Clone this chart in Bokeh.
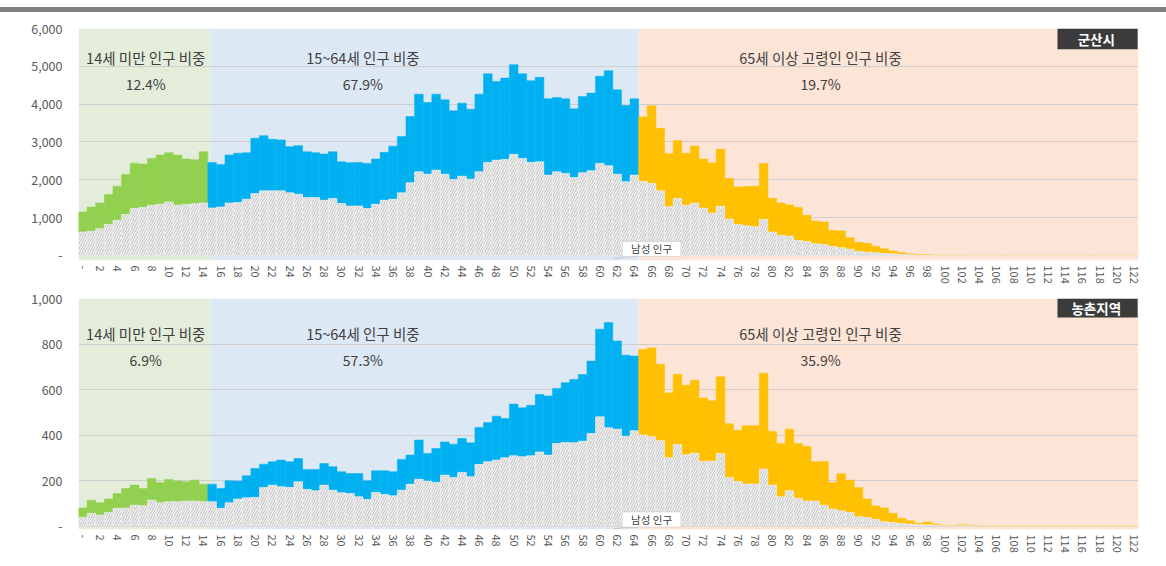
from bokeh.plotting import figure
from bokeh.models import (ColumnDataSource, Range1d, FixedTicker, NumeralTickFormatter,
                          BoxAnnotation, Label, Div, PolyAnnotation)
from bokeh.layouts import column
from bokeh.embed import file_html
from bokeh.resources import INLINE

# ---------------- data ----------------
ages = list(range(0, 123))

gunsan_total = [
    1150, 1283, 1390, 1610, 1830, 2140, 2440, 2415, 2565, 2655,
    2715, 2655, 2550, 2530, 2745, 2460, 2407, 2655, 2700, 2715,
    3100, 3168, 3070, 3053, 2876, 2903, 2743, 2717, 2681, 2743,
    2478, 2451, 2460, 2433, 2549, 2726, 2890, 3142, 3673, 4265,
    4044, 4265, 4115, 3823, 4027, 3867, 4265, 4805, 4602, 4690,
    5044, 4805, 4619, 4708, 4142, 4177, 4142, 3876, 4204, 4292,
    4735, 4885, 4381, 3965, 4142, 3660, 3955, 3360, 2690, 3040,
    2700, 2895, 2550, 2450, 2805, 2035, 1813, 1820, 1830, 2433,
    1510, 1385, 1340, 1270, 1061, 910, 885, 663, 650, 470,
    350, 320, 239, 177, 115, 71, 44, 26, 18, 9,
    5, 3, 1, 0, 0, 0, 0, 0, 0, 0,
    0, 0, 0, 0, 0, 0, 0, 0, 0, 0,
    0, 0, 0,
]
gunsan_male = [
    620, 637, 708, 823, 930, 1080, 1240, 1265, 1330, 1355,
    1415, 1330, 1345, 1370, 1390, 1257, 1283, 1390, 1400, 1487,
    1637, 1708, 1708, 1708, 1655, 1620, 1531, 1531, 1460, 1504,
    1372, 1310, 1310, 1239, 1354, 1460, 1487, 1655, 1920, 2212,
    2150, 2257, 2150, 2009, 2097, 2018, 2212, 2460, 2522, 2540,
    2673, 2566, 2460, 2478, 2124, 2212, 2168, 2062, 2186, 2239,
    2434, 2372, 2150, 1947, 2124, 1960, 1900, 1710, 1290, 1503,
    1330, 1388, 1250, 1123, 1300, 965, 820, 785, 760, 950,
    619, 530, 513, 398, 371, 309, 291, 239, 203, 168,
    106, 88, 71, 53, 44, 26, 18, 9, 8, 3,
    2, 1, 0, 0, 0, 0, 0, 0, 0, 0,
    0, 0, 0, 0, 0, 0, 0, 0, 0, 0,
    0, 0, 0,
]
rural_total = [
    80, 114, 102, 119, 143, 165, 180, 165, 209, 192,
    205, 198, 195, 202, 184, 184, 165, 199, 198, 221,
    253, 272, 283, 290, 283, 297, 249, 249, 275, 261,
    239, 231, 231, 199, 243, 243, 239, 293, 312, 378,
    319, 341, 370, 360, 385, 366, 433, 455, 483, 473,
    536, 520, 531, 578, 572, 605, 630, 644, 666, 725,
    865, 895, 813, 751, 747, 776, 783, 711, 585, 667,
    619, 641, 563, 551, 656, 450, 421, 441, 441, 672,
    416, 363, 426, 363, 350, 283, 284, 192, 230, 202,
    170, 119, 88, 80, 56, 34, 23, 12, 18, 9,
    4, 3, 6, 5, 2, 0, 0, 0, 0, 0,
    0, 0, 0, 0, 0, 0, 0, 0, 0, 0,
    0, 0, 0,
]
rural_male = [
    38, 56, 48, 60, 78, 80, 92, 89, 114, 102,
    107, 107, 110, 110, 107, 107, 78, 102, 119, 124,
    126, 170, 180, 173, 170, 195, 161, 155, 180, 158,
    146, 143, 129, 117, 148, 139, 133, 158, 184, 206,
    198, 192, 224, 214, 236, 217, 271, 283, 290, 300,
    309, 305, 309, 326, 312, 363, 367, 366, 373, 407,
    480, 432, 426, 395, 419, 400, 392, 375, 300, 358,
    313, 321, 285, 285, 319, 213, 196, 185, 185, 251,
    180, 129, 155, 122, 110, 110, 92, 75, 67, 60,
    41, 38, 29, 19, 16, 12, 9, 6, 6, 4,
    2, 1, 2, 2, 1, 0, 0, 0, 0, 0,
    0, 0, 0, 0, 0, 0, 0, 0, 0, 0,
    0, 0, 0,
]

group_titles = ["14세 미만 인구 비중", "15~64세 인구 비중", "65세 이상 고령인 인구 비중"]
gunsan_shares = ["12.4%", "67.9%", "19.7%"]
rural_shares = ["6.9%", "57.3%", "35.9%"]
male_label = "남성 인구"
region_names = ["군산시", "농촌지역"]

# ---------------- style ----------------
FONT = "Noto Sans CJK KR"
GREEN, BLUE, ORANGE = "#92D050", "#00B0F0", "#FFC000"
BG = ["#E3EDDA", "#DDE8F5", "#FCE4D6"]
TXT = "#404040"


def bar_color(a):
    if a < 15:
        return GREEN
    if a < 65:
        return BLUE
    return ORANGE


def make_panel(total, male, shares, region, ymin, ymax, ystep, height, btop, bbot,
               y_title, y_share, tag_bottom, mbox, mtext_y, ptr):
    p = figure(width=1158, height=height, x_range=Range1d(-0.5, 122.5),
               y_range=Range1d(ymin, ymax), output_backend="svg", toolbar_location=None,
               min_border_left=78, min_border_right=20, min_border_top=btop,
               min_border_bottom=bbot)
    p.outline_line_color = None
    p.background_fill_color = "white"
    p.border_fill_color = "white"

    bg = p.quad(left=[-0.5, 14.8, 64.5], right=[14.8, 64.5, 122.5],
                bottom=[ymin] * 3, top=[ymax] * 3, fill_color=BG, line_color=None)
    bg.level = "image"

    p.xgrid.visible = False
    p.ygrid.ticker = FixedTicker(ticks=list(range(0, ymax + 1, ystep)))
    p.ygrid.grid_line_color = "#CFCDCD"
    p.ygrid.grid_line_width = 1

    for ax in (p.xaxis[0], p.yaxis[0]):
        ax.axis_line_color = None
        ax.major_tick_line_color = None
        ax.minor_tick_line_color = None
        ax.major_tick_out = 0
        ax.major_tick_in = 0
        ax.major_label_text_font = FONT
        ax.major_label_text_color = "#595959"
        ax.major_label_overrides = {0: "-"}

    p.yaxis.ticker = FixedTicker(ticks=list(range(0, ymax + 1, ystep)))
    p.yaxis.formatter = NumeralTickFormatter(format="0,0")
    p.yaxis.major_label_text_font_size = "12.5px"
    p.yaxis.major_label_standoff = 16

    p.xaxis.ticker = FixedTicker(ticks=list(range(0, 123, 2)))
    p.xaxis.major_label_orientation = "vertical"
    p.xaxis.major_label_text_font_size = "11px"
    p.xaxis.major_label_standoff = 5

    src = ColumnDataSource(dict(age=ages, total=total, male=male,
                                color=[bar_color(a) for a in ages]))
    p.vbar(x="age", width=1.0, bottom="male", top="total", fill_color="color",
           line_color="color", line_width=0.5, source=src)
    p.vbar(x="age", width=1.0, bottom=0, top="male", fill_color="#F2F2F2",
           line_color="#F2F2F2", line_width=0.5, hatch_pattern="/",
           hatch_color="#B3B3B3", hatch_scale=5, hatch_weight=0.8, source=src)

    xs = [7.3, 32.5, 85.6]
    for x, t, s in zip(xs, group_titles, shares):
        p.add_layout(Label(x=x, y=y_title, text=t, text_align="center",
                           text_baseline="middle", text_font=FONT,
                           text_font_size="14.5px", text_color=TXT))
        p.add_layout(Label(x=x, y=y_share, text=s, text_align="center",
                           text_baseline="middle", text_font=FONT,
                           text_font_size="14px", text_color=TXT))

    # region tag
    p.add_layout(BoxAnnotation(left=113.1, right=122.4, bottom=tag_bottom, top=ymax,
                               fill_color="#3B3B3B", fill_alpha=1, line_color=None))
    p.add_layout(Label(x=117.6, y=(tag_bottom + ymax) / 2, text=region,
                       text_align="center", text_baseline="middle", text_font=FONT,
                       text_font_size="13.5px", text_font_style="bold",
                       text_color="white"))

    # male label callout
    p.add_layout(PolyAnnotation(xs=ptr[0], ys=ptr[1], fill_color="white", fill_alpha=1,
                                line_color="#A6A6A6", line_width=1))
    p.add_layout(BoxAnnotation(left=62.6, right=69.4, bottom=mbox[0], top=mbox[1],
                               fill_color="white", fill_alpha=1,
                               line_color="#A6A6A6", line_width=1))
    p.add_layout(Label(x=66.0, y=mtext_y, text=male_label, text_align="center",
                       text_baseline="middle", text_font=FONT, text_font_size="10.5px",
                       text_color=TXT))
    return p


p1 = make_panel(gunsan_total, gunsan_male, gunsan_shares, region_names[0],
                ymin=-133, ymax=6000, ystep=1000, height=278, btop=16, bbot=30,
                y_title=5230, y_share=4530, tag_bottom=5450,
                mbox=(-26, 371), mtext_y=172,
                ptr=([63.4, 64.4, 61.6], [-26, -26, -75]))
p2 = make_panel(rural_total, rural_male, rural_shares, region_names[1],
                ymin=-15, ymax=1000, ystep=200, height=268, btop=8, bbot=29,
                y_title=845, y_share=728, tag_bottom=917,
                mbox=(-4, 62), mtext_y=29,
                ptr=([63.4, 64.4, 61.6], [-4, -4, -12]))

bar = Div(text="", width=1166, height=5, margin=(7, 0, 0, 0),
          styles={"background-color": "#7F7F7F"})

layout = column(bar, p1, p2, spacing=0)
open("out.html", "w").write(file_html(layout, INLINE))
